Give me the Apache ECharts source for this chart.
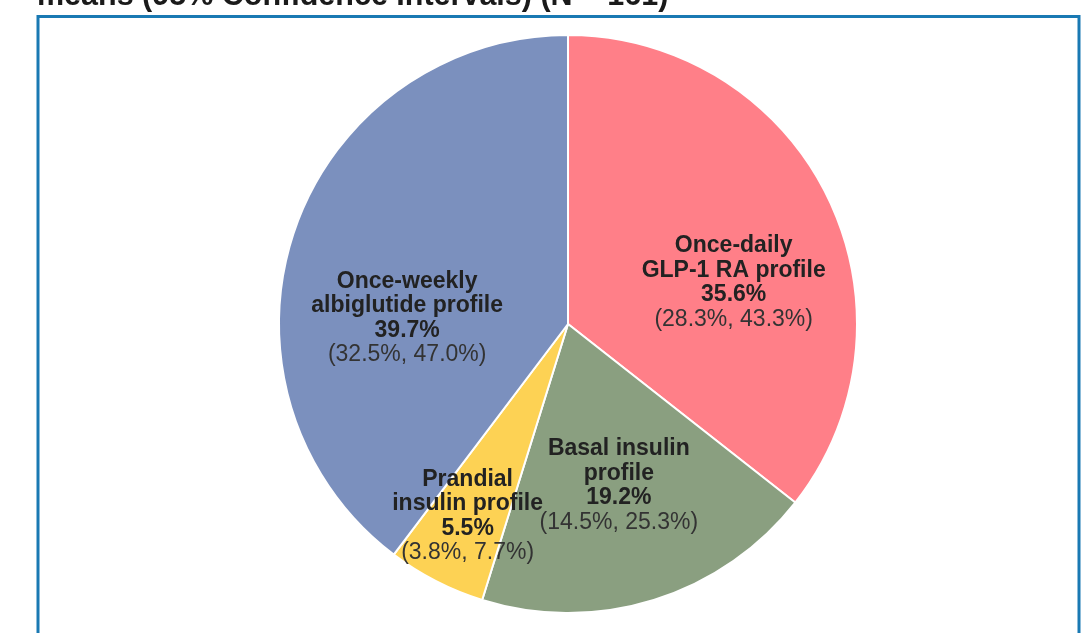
<!DOCTYPE html>
<html>
<head>
<meta charset="utf-8">
<script src="https://cdn.jsdelivr.net/npm/echarts@6/dist/echarts.min.js"></script>
<style>
  html, body { margin: 0; padding: 0; background: #ffffff; }
  #chart { width: 1081px; height: 633px; }
</style>
</head>
<body>
<div id="chart"></div>
<script>
// profile preference shares, clockwise from 12 o'clock
const categories = [
  'Once-daily\nGLP-1 RA profile',
  'Basal insulin\nprofile',
  'Prandial\ninsulin profile',
  'Once-weekly\nalbiglutide profile'
];
const shares = [35.6, 19.2, 5.5, 39.7];
const ciLow = [28.3, 14.5, 3.8, 32.5];
const ciHigh = [43.3, 25.3, 7.7, 47.0];

const colors = ['#ff7f88', '#8a9f80', '#fdd254', '#7b90be'];
// label nudges from the default inner position
const labelShift = [[33, 23], [7, 21], [-33, 61], [-21, 41]];

const chart = echarts.init(document.getElementById('chart'));

const fmt = v => v.toFixed(1) + '%';

const option = {
  backgroundColor: '#ffffff',
  animation: false,
  graphic: [
    {
      type: 'text',
      left: 37,
      top: -19,
      style: {
        text: 'means (95% Confidence Intervals) (N = 161)',
        fill: '#1a1a1a',
        font: 'bold 30.5px "Liberation Sans", Arial, sans-serif'
      }
    },
    {
      type: 'rect',
      shape: { x: 38, y: 16.5, width: 1041, height: 640 },
      style: { fill: 'none', stroke: '#1979b3', lineWidth: 3 }
    }
  ],
  series: [
    {
      type: 'pie',
      center: [568, 324],
      radius: 289,
      startAngle: 90,
      clockwise: true,
      itemStyle: {
        borderColor: '#ffffff',
        borderWidth: 2
      },
      label: {
        show: true,
        position: 'inner',
        color: '#222222',
        fontFamily: '"Liberation Sans", Arial, sans-serif',
        formatter: p => {
          const i = p.dataIndex;
          const lines = categories[i].split('\n').map(s => '{b|' + s + '}');
          lines.push('{b|' + fmt(shares[i]) + '}');
          lines.push('{n|(' + fmt(ciLow[i]) + ', ' + fmt(ciHigh[i]) + ')}');
          return lines.join('\n');
        },
        rich: {
          b: {
            fontSize: 23,
            fontWeight: 'bold',
            lineHeight: 24.5,
            color: '#222222',
            fontFamily: '"Liberation Sans", Arial, sans-serif',
            align: 'center'
          },
          n: {
            fontSize: 23,
            lineHeight: 24.5,
            color: '#333333',
            fontFamily: '"Liberation Sans", Arial, sans-serif',
            align: 'center'
          }
        }
      },
      labelLine: { show: false },
      labelLayout: params => ({
        dx: labelShift[params.dataIndex][0],
        dy: labelShift[params.dataIndex][1]
      }),
      emphasis: { disabled: true },
      data: categories.map((name, i) => ({
        name: name,
        value: shares[i],
        itemStyle: { color: colors[i] }
      }))
    }
  ]
};

chart.setOption(option);
</script>
</body>
</html>
